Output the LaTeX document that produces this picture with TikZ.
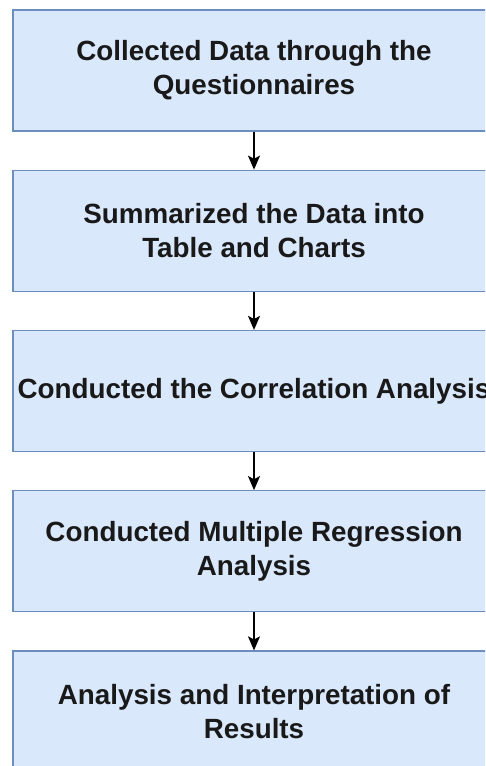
\documentclass[tikz,border=0pt]{standalone}
\usepackage{fontspec}
\setmainfont{Liberation Sans}
\usetikzlibrary{arrows.meta}
\definecolor{boxfill}{HTML}{DAE8FC}
\definecolor{boxline}{HTML}{6C8EBF}
\tikzset{
  stepbox/.style={draw=boxline, fill=boxfill, line width=1.2pt,
    minimum width=482pt, minimum height=121pt, inner sep=0pt,
    align=center, font=\fontsize{27.8}{34}\selectfont\bfseries, text=black!90},
  flow/.style={line width=1.3pt, -{Stealth[length=14pt,width=12pt,inset=3pt]}}
}
\begin{document}
\begin{tikzpicture}[x=1pt, y=-1pt]
  \useasboundingbox (0,0) rectangle (485,766);
  \clip (0,0) rectangle (485,766);
  \node[stepbox] (s1) at (254,70.5)  {Collected Data through the\\Questionnaires};
  \node[stepbox] (s2) at (254,230.75) {Summarized the Data into\\Table and Charts};
  \node[stepbox] (s3) at (254,391) {Conducted the Correlation Analysis};
  \node[stepbox] (s4) at (254,551.25) {Conducted Multiple Regression\\Analysis};
  \node[stepbox] (s5) at (254,711.5) {Analysis and Interpretation of\\Results};
  \draw[flow] (s1) -- (s2);
  \draw[flow] (s2) -- (s3);
  \draw[flow] (s3) -- (s4);
  \draw[flow] (s4) -- (s5);
\end{tikzpicture}
\end{document}
